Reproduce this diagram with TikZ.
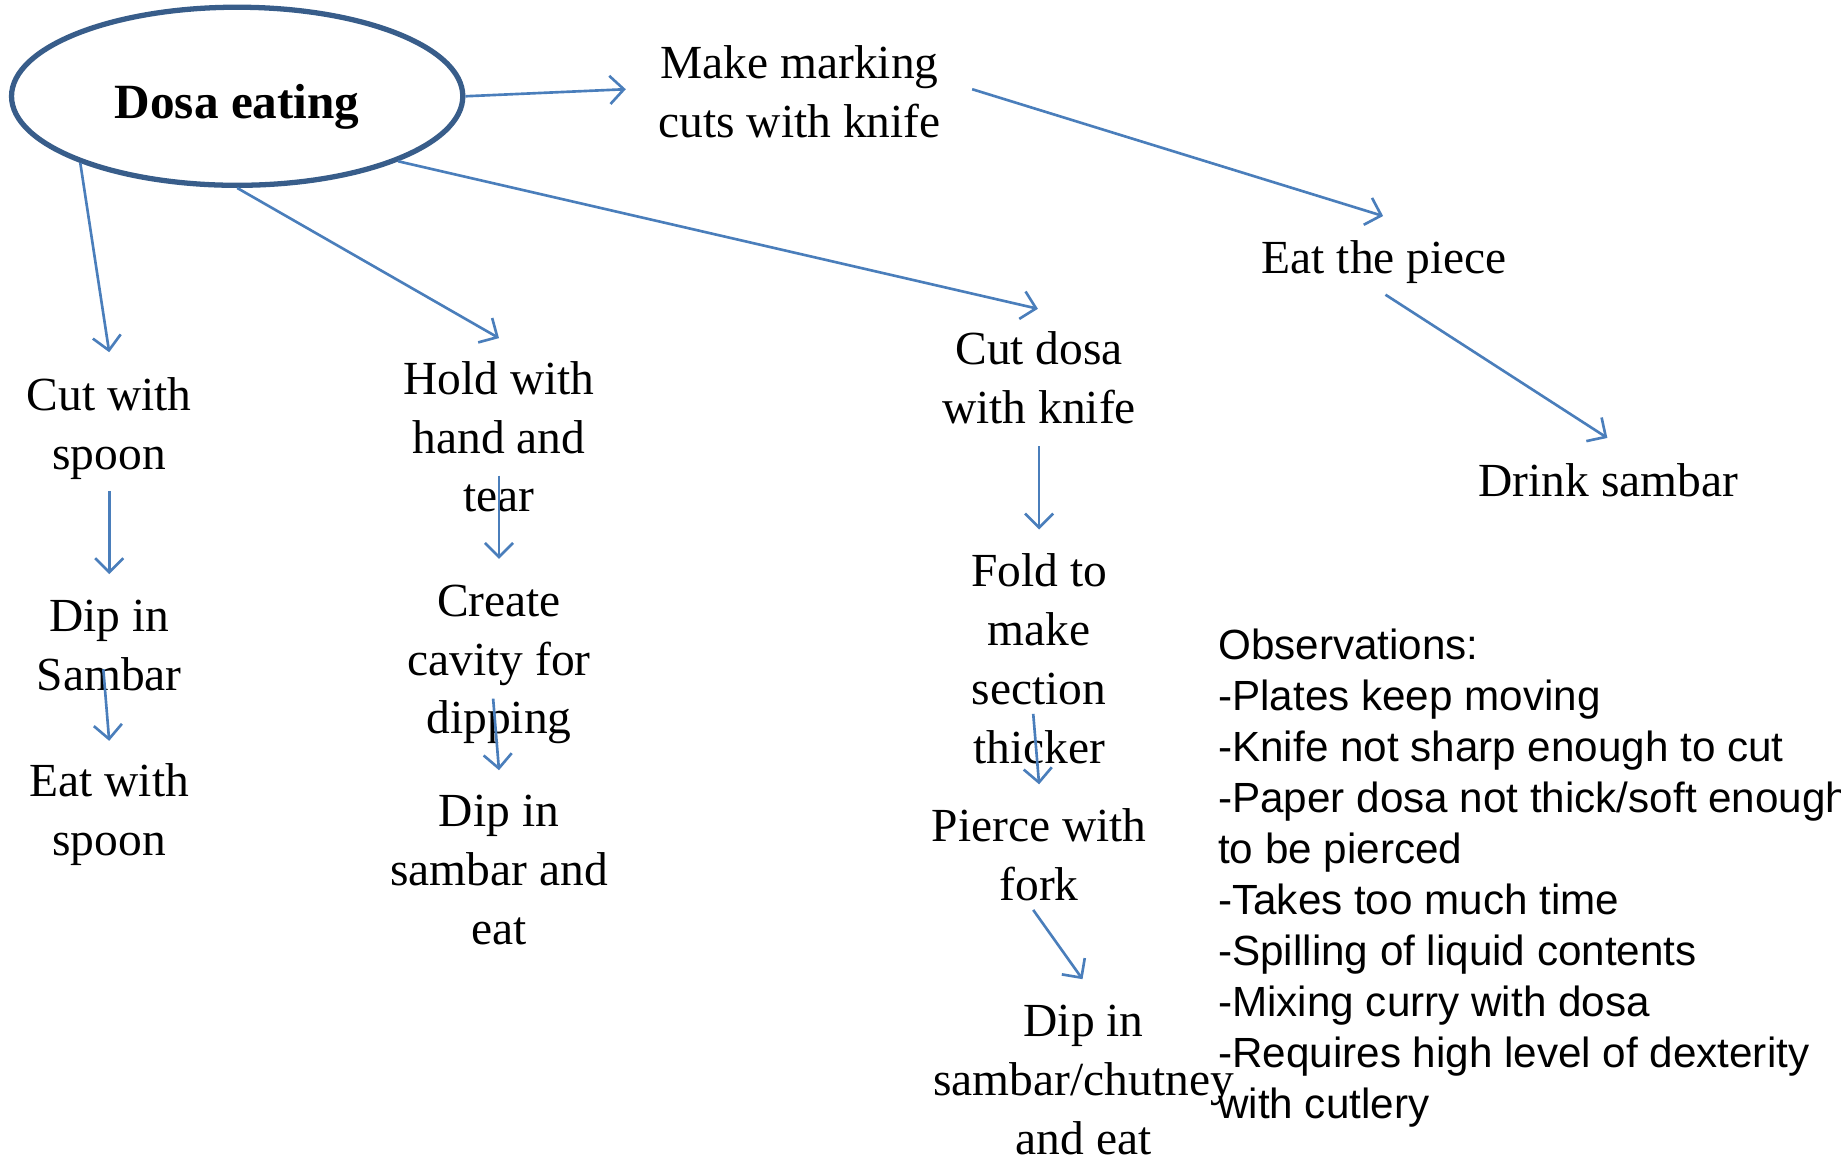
\documentclass[tikz,border=0pt]{standalone}
\usepackage{fontspec}
\setmainfont{Liberation Serif}
\newfontfamily\obsfont{Liberation Sans}
\usetikzlibrary{shapes.geometric,arrows.meta}
\definecolor{linkblue}{HTML}{4A7EBB}
\definecolor{ovalblue}{HTML}{385D8A}
\tikzset{
  stage/.style={align=center,inner sep=0pt,font=\fontsize{13.5}{16.7}\selectfont},
  link/.style={linkblue,line width=0.75pt,-{Straight Barb[length=4pt,width=8pt]}}
}
\begin{document}
\begin{tikzpicture}[x=0.011741cm,y=-0.011741cm]
\useasboundingbox (0,0) rectangle (1568,984);
\clip (0,0) rectangle (1568,984);

% Main oval
\node[ellipse,draw=ovalblue,line width=1.5pt,minimum width=4.51cm,minimum height=1.78cm,inner sep=0pt,
  text height=16pt,font=\fontsize{14}{16.8}\selectfont\bfseries] (dosa) at (202,82) {Dosa eating};

% Knife path along the top
\node[stage] (marking) at (681,78) {Make marking\\cuts with knife};
\node[stage] (piece) at (1179,223) {Eat the piece};
\node[stage] (drink) at (1370,409) {Drink sambar};

% Spoon path
\node[stage] (spoon) at (93,365) {Cut with\\spoon};
\node[stage] (dipspoon) at (93,550) {Dip in\\Sambar};
\node[stage] (eatspoon) at (93,694) {Eat with\\spoon};

% Hand path
\node[stage] (tear) at (425,372) {Hold with\\hand and\\tear};
\node[stage] (cavity) at (425,566) {Create\\cavity for\\dipping};
\node[stage] (diphand) at (425,741) {Dip in\\sambar and\\eat};

% Knife and fork path
\node[stage] (cutknife) at (885,322) {Cut dosa\\with knife};
\node[stage] (fold) at (885,561) {Fold to\\make\\section\\thicker};
\node[stage] (pierce) at (885,728) {Pierce with\\fork};
\node[stage] (dipfork) at (923,920) {Dip in\\sambar/chutney\\and eat};

% Observations
\node[anchor=north west,align=left,inner sep=0pt,font=\obsfont\fontsize{12}{14.5}\selectfont] (obs) at (1037,535)
  {Observations:\\-Plates keep moving\\-Knife not sharp enough to cut\\-Paper dosa not thick/soft enough\\to be pierced\\-Takes too much time\\-Spilling of liquid contents\\-Mixing curry with dosa\\-Requires high level of dexterity\\with cutlery};

% Arrow ends
\coordinate (markingin) at (533,76);
\coordinate (markingout) at (828,76);
\coordinate (piecein) at (1178,184);
\coordinate (pieceout) at (1180,251);
\coordinate (drinkin) at (1369,373);
\coordinate (spoonin) at (93,300);
\coordinate (spoonout) at (93,418);
\coordinate (dipspoonin) at (93,489);
\coordinate (dipspoonout) at (88,570);
\coordinate (eatspoonin) at (93,631);
\coordinate (tearin) at (425,288);
\coordinate (tearout) at (425,405);
\coordinate (cavityin) at (425,476);
\coordinate (cavityout) at (420,595);
\coordinate (diphandin) at (425,656);
\coordinate (cutknifein) at (884,263);
\coordinate (cutknifeout) at (885,380);
\coordinate (foldin) at (885,451);
\coordinate (foldout) at (880,608);
\coordinate (piercein) at (885,668);
\coordinate (pierceout) at (880,775);
\coordinate (dipforkin) at (922,834);

% Connectors
\draw[link] (dosa.east) -- (markingin);
\draw[link] (markingout) -- (piecein);
\draw[link] (pieceout) -- (drinkin);
\draw[link] (dosa.203) -- (spoonin);
\draw[link] (spoonout) -- (dipspoonin);
\draw[link] (dipspoonout) -- (eatspoonin);
\draw[link] (dosa.south) -- (tearin);
\draw[link] (tearout) -- (cavityin);
\draw[link] (cavityout) -- (diphandin);
\draw[link] (dosa.338) -- (cutknifein);
\draw[link] (cutknifeout) -- (foldin);
\draw[link] (foldout) -- (piercein);
\draw[link] (pierceout) -- (dipforkin);
\end{tikzpicture}
\end{document}
